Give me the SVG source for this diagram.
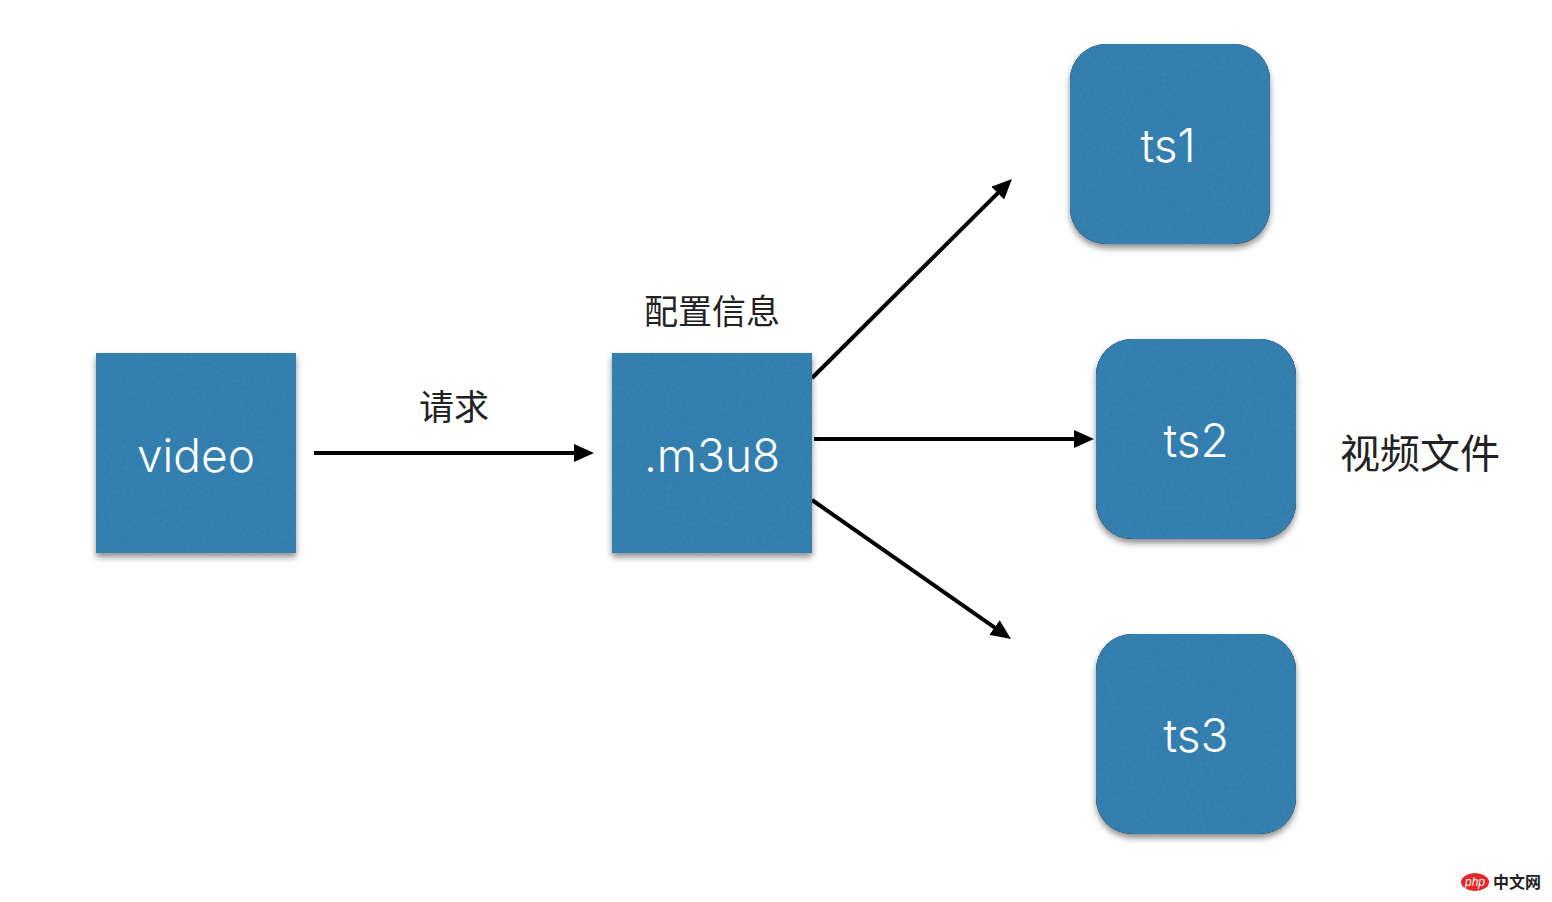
<svg xmlns="http://www.w3.org/2000/svg" width="1552" height="902" viewBox="0 0 1552 902">
<style>
.b{fill:#3682b1;filter:url(#s)}
.t{font-family:"Inter","Liberation Sans",sans-serif;font-weight:300;font-size:46px;fill:#fff;text-anchor:middle}
.c{font-family:"Liberation Sans","Noto Sans CJK SC",sans-serif;fill:#222;text-anchor:middle}
.l{stroke:#000;stroke-width:4;fill:none;marker-end:url(#a)}
</style>
<defs>
<filter id="s" x="-10%" y="-10%" width="120%" height="125%" color-interpolation-filters="sRGB">
<feTurbulence type="fractalNoise" baseFrequency="0.3" numOctaves="2" seed="7" result="n"/>
<feColorMatrix in="n" type="matrix" values="0 0 0 0 0.1  0 0 0 0 0.38  0 0 0 0 0.58  0.3 0 0 0 -0.07" result="d"/>
<feComposite in="d" in2="SourceAlpha" operator="in" result="tex"/>
<feDropShadow in="SourceAlpha" dx="0" dy="4" stdDeviation="3" flood-color="#000" flood-opacity=".45" result="sh"/>
<feMerge><feMergeNode in="sh"/><feMergeNode in="SourceGraphic"/><feMergeNode in="tex"/></feMerge>
</filter>
<marker id="a" markerUnits="userSpaceOnUse" markerWidth="20" markerHeight="18" refX="12" refY="9" orient="auto"><path d="M0 0L20 9L0 18Z" fill="#000"/></marker>
</defs>
<rect width="1552" height="902" fill="#fff"/>
<g id="connectors">
<path class="l" d="M314 453H586"/>
<path class="l" d="M812 378L1006.3 184.6"/>
<path class="l" d="M814 439H1086"/>
<path class="l" d="M812 500L1004.4 634.4"/>
</g>
<g id="video"><rect class="b" x="96" y="353" width="200" height="200"/><text class="t" x="196" y="472">video</text></g>
<g id="m3u8"><rect class="b" x="612" y="353" width="200" height="200"/><text class="t" x="712" y="472">.m3u8</text></g>
<g id="ts1"><rect class="b" x="1070" y="44" width="200" height="200" rx="36"/><text class="t" x="1168" y="162">ts1</text></g>
<g id="ts2"><rect class="b" x="1096" y="339" width="200" height="200" rx="36"/><text class="t" x="1196" y="457">ts2</text></g>
<g id="ts3"><rect class="b" x="1096" y="634" width="200" height="200" rx="36"/><text class="t" x="1196" y="752">ts3</text></g>
<g id="label-request"><text class="c" x="454" y="420" font-size="35">请求</text></g>
<g id="label-config"><text class="c" x="712" y="324" font-size="34">配置信息</text></g>
<g id="label-files"><text class="c" x="1420" y="468" font-size="40">视频文件</text></g>
<g id="watermark">
<ellipse cx="1475" cy="882" rx="14" ry="9" fill="#e8262a"/>
<text x="1475" y="886" font-family="Liberation Sans,sans-serif" font-style="italic" font-size="12" fill="#fff" text-anchor="middle">php</text>
<text x="1517" y="888" font-family="Noto Sans CJK SC,sans-serif" font-size="16" font-weight="700" fill="#222" text-anchor="middle">中文网</text>
</g>
</svg>
